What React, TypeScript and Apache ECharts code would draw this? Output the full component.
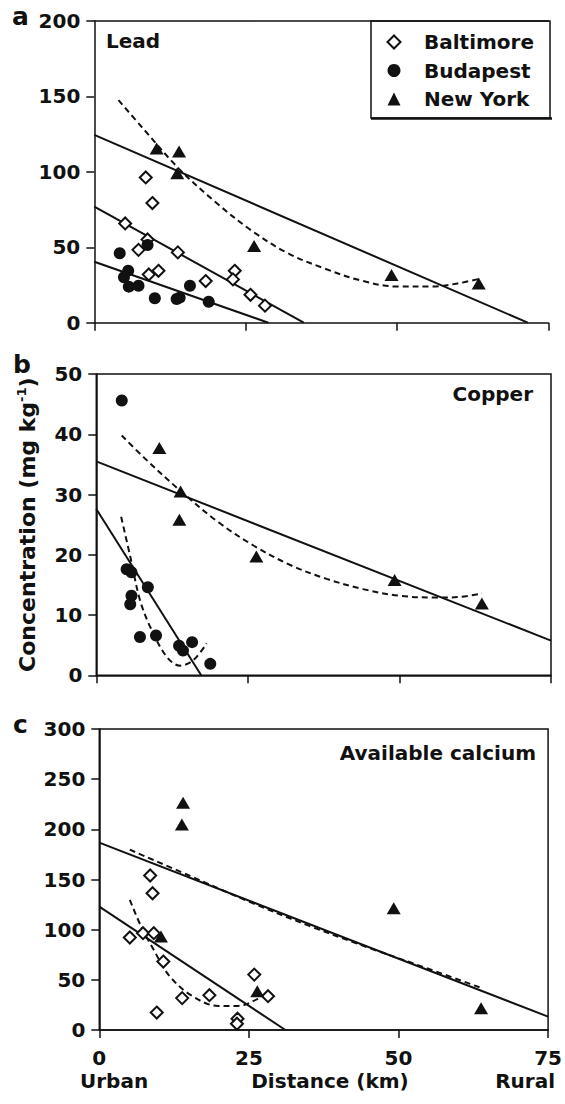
import React, { useEffect, useRef } from "react";
import * as echarts from "echarts";

const FONT = '"DejaVu Sans", sans-serif';
const INK = "#111";

// ---- Panel a: Lead ----
const leadBaltimore = [[5.1, 65.8], [8.5, 96.3], [9.6, 79.3], [8.8, 55.2], [7.3, 48.3], [9.0, 32.0], [10.6, 34.4], [13.8, 46.6], [18.4, 27.6], [23.2, 34.4], [22.9, 28.7], [25.8, 18.5], [28.2, 11.3]];
const leadBudapest = [[4.2, 46.0], [5.6, 34.5], [4.9, 30.1], [5.7, 23.9], [7.3, 24.5], [8.8, 51.5], [10.0, 16.2], [13.6, 15.7], [14.1, 16.6], [15.8, 24.5], [18.9, 13.9]];
const leadNewYork = [[10.3, 115.5], [14.0, 113.5], [13.7, 99.0], [26.4, 50.8], [49.1, 31.6], [63.5, 26.0]];
const leadNewYorkFit = [[0, 124.5], [71.6, 0]];
const leadBaltimoreFit = [[0, 77], [34.6, 0]];
const leadBudapestFit = [[0, 40.4], [28.75, 0]];
const leadNewYorkCurve = [[4, 147.5], [8, 129], [14, 102], [20, 80], [26, 61], [32, 46], [38, 36], [44, 28], [50, 24], [56, 24], [60, 26], [63.5, 29]];

// ---- Panel b: Copper ----
const copperBudapest = [[4.2, 45.6], [5.0, 17.6], [5.8, 17.1], [5.8, 13.2], [5.6, 11.8], [8.5, 14.6], [7.2, 6.35], [9.85, 6.6], [13.65, 4.9], [14.3, 4.1], [15.8, 5.5], [18.8, 1.9]];
const copperNewYork = [[10.4, 37.7], [13.9, 30.5], [13.7, 25.8], [26.4, 19.7], [49.2, 15.8], [63.6, 11.9]];
const copperNewYorkFit = [[0, 35.5], [75, 5.75]];
const copperBudapestFit = [[0, 27.6], [17.3, 0]];
const copperNewYorkCurve = [[4.2, 39.8], [8, 36], [14, 30.5], [20, 25.5], [26, 21.5], [32, 18.3], [38, 16], [44, 14.3], [50, 13.2], [56, 12.9], [60, 13], [63.6, 13.6]];
const copperBudapestCurve = [[4.1, 26.3], [5.6, 19.7], [7.2, 12.5], [9, 7.8], [11.6, 3.1], [13.8, 1.6], [16, 2.5], [18.2, 5.3]];

// ---- Panel c: Available calcium ----
const calciumBaltimore = [[5.1, 92.2], [7.3, 96.5], [9.1, 96.5], [8.5, 154], [8.9, 136.3], [10.7, 68.2], [9.6, 17.4], [13.85, 31.8], [18.4, 34.7], [25.9, 55.2], [28.2, 33.7], [23.1, 11.2], [23.0, 6.2]];
const calciumNewYork = [[14.0, 226.6], [13.8, 204.7], [49.2, 121.3], [10.3, 93.1], [26.4, 38.6], [63.8, 21.6]];
const calciumNewYorkFit = [[0, 186.7], [75, 13.3]];
const calciumBaltimoreFit = [[0, 122.9], [31.1, 0]];
const calciumNewYorkCurve = [[5.1, 179.7], [15, 154], [25, 128], [35, 104], [45, 82], [55, 61], [63.8, 42]];
const calciumBaltimoreCurve = [[5.1, 129.8], [7, 103], [8.9, 82], [11.7, 54], [15.5, 34], [19.9, 24], [23.2, 24], [26.5, 31], [27.4, 35]];

const cities = ["Baltimore", "Budapest", "New York"];
const panelTitles = ["Lead", "Copper", "Available calcium"];
const panelLetters = ["a", "b", "c"];
const xRange = { min: 0, max: 75, interval: 25 };
const yRanges = [
  { min: 0, max: 200, interval: 50 },
  { min: 0, max: 50, interval: 10 },
  { min: 0, max: 300, interval: 50 },
];

const textBold = { fontFamily: FONT, fontWeight: "bold" as const, fontSize: 20, color: INK };

function xAxis(gridIndex: number, showLabel: boolean) {
  return {
    type: "value", gridIndex, ...xRange,
    axisLine: { show: true, onZero: false, lineStyle: { color: INK, width: 1.5 } },
    axisTick: { show: true, length: 8, lineStyle: { color: INK, width: 1.5 } },
    axisLabel: { show: showLabel, margin: 18, ...textBold },
    splitLine: { show: false },
  };
}
function yAxis(gridIndex: number, extra: any = {}) {
  return {
    type: "value", gridIndex, ...yRanges[gridIndex],
    axisLine: { show: true, onZero: false, lineStyle: { color: INK, width: 1.5 } },
    axisTick: { show: true, length: 8, lineStyle: { color: INK, width: 1.5 } },
    axisLabel: { show: true, margin: 14, ...textBold },
    splitLine: { show: false },
    ...extra,
  };
}

const symbols: Record<string, any> = {
  Baltimore: { symbol: "diamond", symbolSize: 12, itemStyle: { color: "#fff", borderColor: INK, borderWidth: 2, opacity: 1 } },
  Budapest: { symbol: "circle", symbolSize: 12, itemStyle: { color: INK, opacity: 1 } },
  "New York": { symbol: "triangle", symbolSize: [14, 12], itemStyle: { color: INK, opacity: 1 } },
};

function scatter(name: string, idx: number, data: number[][]) {
  return { type: "scatter", name, xAxisIndex: idx === 0 ? 0 : idx + 1, yAxisIndex: idx, data, z: 5, silent: true, ...symbols[name] };
}
function line(name: string, idx: number, data: number[][], dashed: boolean) {
  return {
    type: "line", name, xAxisIndex: idx === 0 ? 0 : idx + 1, yAxisIndex: idx, data,
    showSymbol: false, symbol: "none", smooth: dashed ? 0.35 : false, z: 3, silent: true,
    lineStyle: { color: INK, width: 2, type: dashed ? [6, 4] : "solid" },
  };
}

const grids = [
  { left: 94.3, top: 21, width: 454, height: 301.7, show: false },
  { left: 96.3, top: 374, width: 454.7, height: 301.3, show: true, borderColor: INK, borderWidth: 1.5, backgroundColor: "transparent" },
  { left: 99.3, top: 729, width: 454.2, height: 301, show: true, borderColor: INK, borderWidth: 1.5, backgroundColor: "transparent" },
];

function gText(text: string, x: number, y: number, align: string, size = 20) {
  return {
    type: "text", z: 10, silent: true,
    style: { text, x, y, align, verticalAlign: "middle", font: `bold ${size}px ${FONT}`, fill: INK },
  };
}

export default function App() {
  const ref = useRef<HTMLDivElement>(null);
  useEffect(() => {
    document.body.style.margin = "0";
    const chart = echarts.init(ref.current!, null, { renderer: "svg" });
    const option: any = {
      animation: false,
      grid: grids,
      xAxis: [
        xAxis(0, false),
        { type: "value", gridIndex: 0, position: "top", ...xRange, axisLine: { show: true, onZero: false, lineStyle: { color: INK, width: 1.5 } }, axisTick: { show: false }, axisLabel: { show: false }, splitLine: { show: false } },
        xAxis(1, false),
        xAxis(2, true),
      ],
      yAxis: [
        yAxis(0),
        yAxis(1, {
          name: "{a|Concentration (mg kg}{b|-1}{a|)}",
          nameLocation: "middle",
          nameRotate: 90,
          nameGap: 56,
          nameTextStyle: {
            rich: {
              a: { ...textBold, fontSize: 22, lineHeight: 25 },
              b: { ...textBold, fontSize: 13, lineHeight: 25, verticalAlign: "top", padding: [0, 0, 10, 0] },
            },
          },
        }),
        yAxis(2),
      ],
      legend: {
        show: true, orient: "vertical", left: 386.5, top: 31, padding: 0, itemGap: 6.5,
        itemWidth: 13, itemHeight: 13, selectedMode: false,
        formatter: (name: string) => `{sp|}${name}`,
        textStyle: { ...textBold, lineHeight: 22, rich: { sp: { width: 18.5 } } },
        data: [
          { name: "Baltimore", icon: "diamond", itemStyle: { color: "#fff", borderColor: INK, borderWidth: 2, opacity: 1 } },
          { name: "Budapest", icon: "circle", itemStyle: { color: INK, borderWidth: 0, opacity: 1 } },
          { name: "New York", icon: "triangle", itemStyle: { color: INK, borderWidth: 0, opacity: 1 } },
        ],
      },
      graphic: [
        { type: "rect", z: 8, silent: true, shape: { x: 371, y: 21, width: 179, height: 97 }, style: { fill: "none", stroke: INK, lineWidth: 1.5 } },
        { type: "line", z: 8, silent: true, shape: { x1: 371, y1: 118.5, x2: 552, y2: 118.5 }, style: { stroke: INK, lineWidth: 2.5 } },
        gText(panelLetters[0], 12, 16.5, "left", 25),
        gText(panelLetters[1], 13, 364.6, "left", 25),
        gText(panelLetters[2], 13, 724.3, "left", 25),
        gText(panelTitles[0], 106, 40.7, "left"),
        gText(panelTitles[1], 533, 394.4, "right"),
        gText(panelTitles[2], 536, 752.7, "right"),
        gText("Urban", 80, 1081, "left"),
        gText("Distance (km)", 330, 1081, "center"),
        gText("Rural", 555, 1081, "right"),
      ],
      series: [
        scatter(cities[0], 0, leadBaltimore),
        scatter(cities[1], 0, leadBudapest),
        scatter(cities[2], 0, leadNewYork),
        line("Lead NY fit", 0, leadNewYorkFit, false),
        line("Lead Baltimore fit", 0, leadBaltimoreFit, false),
        line("Lead Budapest fit", 0, leadBudapestFit, false),
        line("Lead NY curve", 0, leadNewYorkCurve, true),

        scatter(cities[1], 1, copperBudapest),
        scatter(cities[2], 1, copperNewYork),
        line("Copper NY fit", 1, copperNewYorkFit, false),
        line("Copper Budapest fit", 1, copperBudapestFit, false),
        line("Copper NY curve", 1, copperNewYorkCurve, true),
        line("Copper Budapest curve", 1, copperBudapestCurve, true),

        scatter(cities[0], 2, calciumBaltimore),
        scatter(cities[2], 2, calciumNewYork),
        line("Calcium NY fit", 2, calciumNewYorkFit, false),
        line("Calcium Baltimore fit", 2, calciumBaltimoreFit, false),
        line("Calcium NY curve", 2, calciumNewYorkCurve, true),
        line("Calcium Baltimore curve", 2, calciumBaltimoreCurve, true),
      ],
    };
    chart.setOption(option);
    return () => chart.dispose();
  }, []);
  return <div ref={ref} style={{ position: "absolute", left: 0, top: 0, width: 565, height: 1104 }} />;
}
